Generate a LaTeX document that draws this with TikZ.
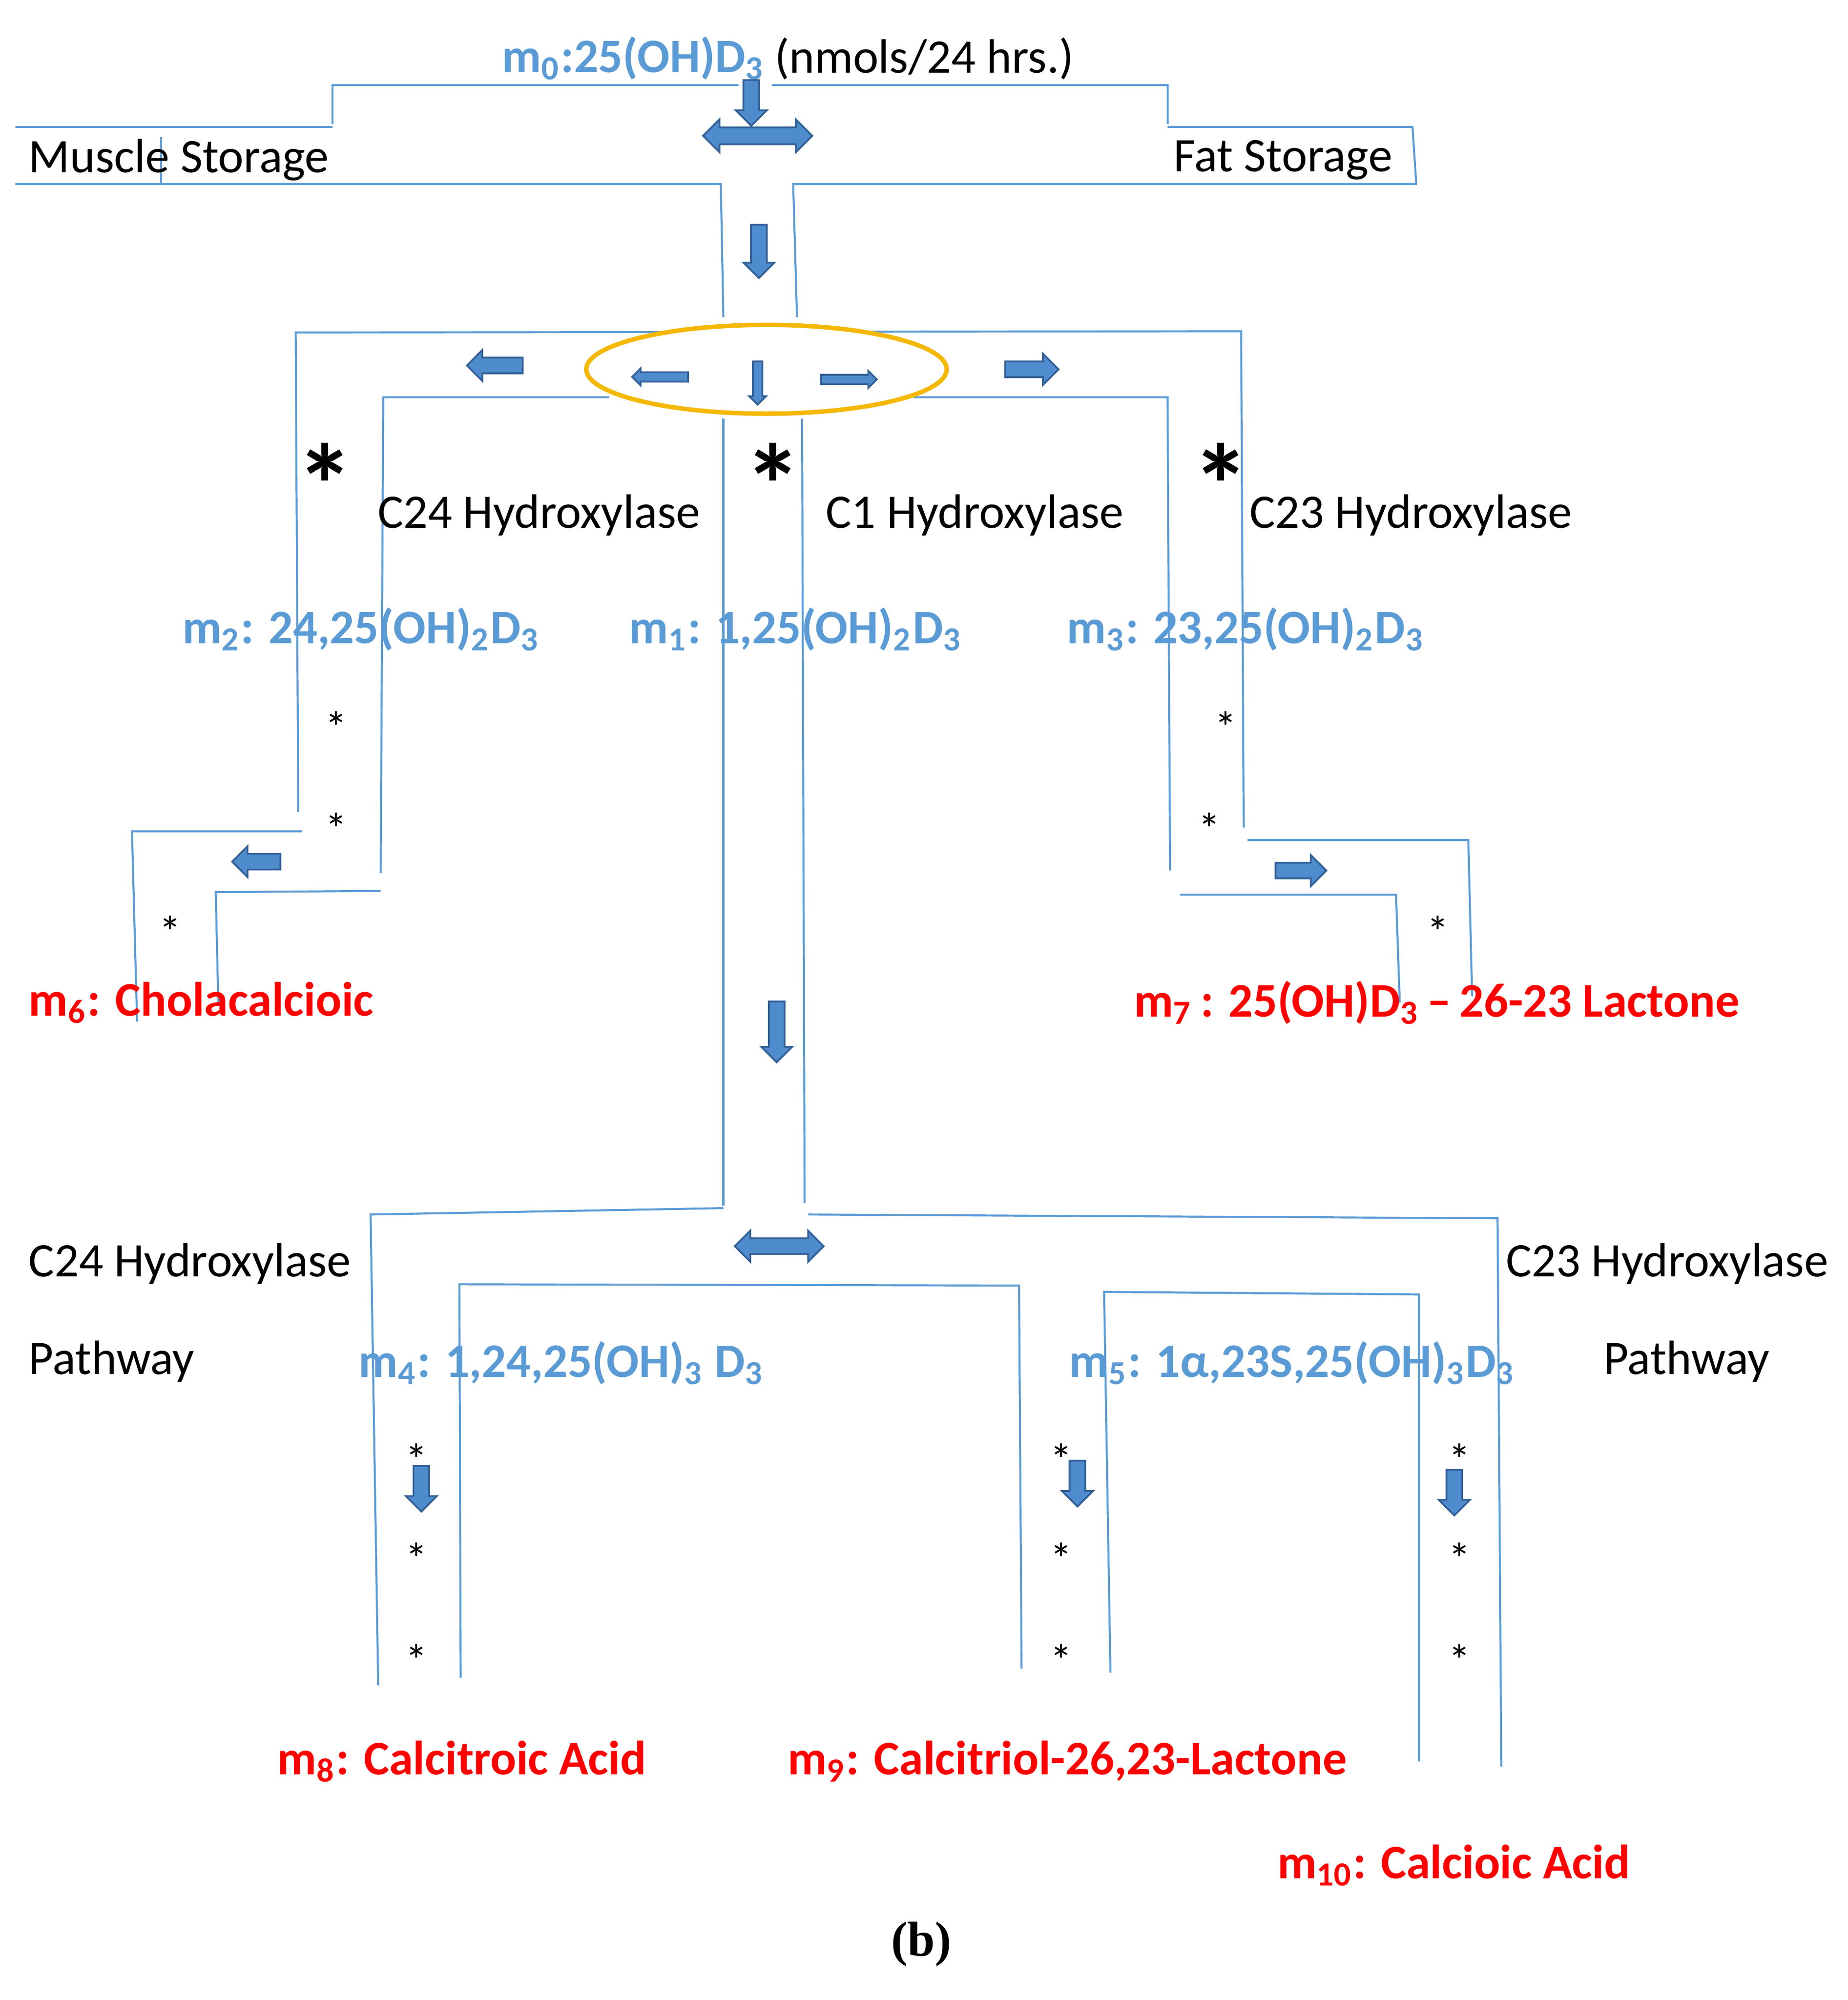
\documentclass[tikz,border=0pt]{standalone}
\usepackage{fontspec}
\setmainfont{Carlito}
\newfontfamily\serifb{Liberation Serif}
\usetikzlibrary{shapes.arrows}
\definecolor{ln}{RGB}{91,155,213}
\definecolor{arrf}{RGB}{79,140,205}
\definecolor{arrd}{RGB}{50,95,150}
\definecolor{bl}{RGB}{91,155,213}
\definecolor{rd}{RGB}{255,0,0}
\definecolor{orng}{RGB}{245,184,0}
\begin{document}
\begin{tikzpicture}[x=0.01cm,y=-0.01cm,
  l/.style={draw=ln,line width=0.45pt},
  sa/.style={single arrow,draw=arrd,fill=arrf,line width=0.4pt,inner xsep=0pt,inner ysep=0.055cm,single arrow head extend=0.06cm,single arrow tip angle=90,minimum width=0.23cm,minimum height=0.36cm},
  sat/.style={sa,inner ysep=0.03cm,minimum width=0.13cm,single arrow head extend=0.03cm,minimum height=0.44cm},
  da/.style={double arrow,draw=arrd,fill=arrf,line width=0.4pt,inner xsep=0pt,inner ysep=0.055cm,double arrow head extend=0.06cm,minimum width=0.26cm,minimum height=0.86cm},
  t/.style={anchor=west,inner sep=0pt,font=\fontsize{10.8}{12}\selectfont},
  tb/.style={t,text=bl,font=\fontsize{10.8}{12}\selectfont\bfseries},
  tr/.style={t,text=rd,font=\fontsize{10.8}{12}\selectfont\bfseries},
  as/.style={inner sep=0pt,font=\fontsize{10}{12}\selectfont},
  bas/.style={inner sep=0pt,font=\fontsize{26}{28}\selectfont\bfseries}]
\useasboundingbox (0,0) rectangle (1456,1576);
% top
\node[tb] (m0) at (395,46) {m\textsubscript{0}:25(OH)D\textsubscript{3}};
\node[t,anchor=west] (nm) at (m0.east) {\,(nmols/24 hrs.)};
\draw[l] (262,98)--(262,67)--(582,67);
\draw[l] (608,67)--(920,67)--(920,98);
\draw[l] (12,100)--(262,100);
\draw[l] (12,145)--(568,145)--(570,250);
\draw[l] (127,108)--(127,145);
\draw[l] (920,100)--(1113,100)--(1116,145)--(625,145)--(628,250);
\node[t] (ms) at (22,126) {Muscle Storage};
\node[t] (fs) at (924,126) {Fat Storage};
\node[sa,rotate=-90] (a0) at (592,78) {};
\node[da] (d0) at (597,107) {};
\node[sa,rotate=-90,minimum height=0.42cm] (a1) at (598,195) {};
% second level
\draw[l] (235,640)--(233,262)--(978,261)--(980,652);
\draw[l] (300,688)--(302,313)--(480,313);
\draw[l] (720,313)--(920,313)--(922,686);
\draw[l] (570,330)--(570,950);
\draw[l] (632,330)--(634,948);
\draw[orng,line width=1pt,fill=white] (604,291) ellipse [x radius=142,y radius=35];
\node[sat,shape border rotate=180] (e1) at (522,297) {};
\node[sat,rotate=-90,minimum height=0.34cm] (e2) at (597,300) {};
\node[sat] (e3) at (667,299) {};
\node[sa,shape border rotate=180,minimum height=0.44cm] (al) at (393,288) {};
\node[sa,minimum height=0.42cm] (ar) at (810,291) {};
\node[bas] (s1) at (256,382) {*};
\node[bas] (s2) at (609,382) {*};
\node[bas] (s3) at (962,382) {*};
\node[t] (c24) at (297,406) {C24 Hydroxylase};
\node[t] (c1) at (650,406) {C1 Hydroxylase};
\node[t] (c23) at (984,406) {C23 Hydroxylase};
\node[tb] (m2) at (143,496) {m\textsubscript{2}: 24,25(OH)\textsubscript{2}D\textsubscript{3}};
\node[tb] (m1) at (495,496) {m\textsubscript{1}: 1,25(OH)\textsubscript{2}D\textsubscript{3}};
\node[tb] (m3) at (840,496) {m\textsubscript{3}: 23,25(OH)\textsubscript{2}D\textsubscript{3}};
\node[as] at (265,573) {*}; \node[as] at (265,653) {*}; \node[as] at (134,734) {*};
\node[as] at (966,573) {*}; \node[as] at (953,653) {*}; \node[as] at (1133,734) {*};
\draw[l] (238,655)--(104,655)--(108,805);
\draw[l] (300,702)--(170,703)--(172,790);
\node[sa,shape border rotate=180,minimum height=0.38cm] (a6) at (205,679) {};
\draw[l] (983,662)--(1157,662)--(1160,785);
\draw[l] (930,705)--(1100,705)--(1103,790);
\node[sa,minimum height=0.4cm] (a7) at (1022,686) {};
\node[tr] (m6) at (22,790) {m\textsubscript{6}: Cholacalcioic};
\node[tr] (m7) at (893,790) {m\textsubscript{7}\,: 25(OH)D\textsubscript{3}\,–\,26-23 Lactone};
\node[sa,rotate=-90,minimum height=0.48cm] (a8) at (612,810) {};
% bottom
\draw[l] (298,1328)--(292,957)--(570,952);
\draw[l] (637,957)--(1180,960)--(1183,1392);
\draw[l] (363,1322)--(362,1012)--(803,1013)--(805,1315);
\draw[l] (875,1318)--(870,1018)--(1118,1020)--(1118,1388);
\node[da,minimum height=0.7cm,minimum width=0.24cm] (d1) at (614,982) {};
\node[t] (p1) at (22,996) {C24 Hydroxylase};
\node[t] (p2) at (22,1073) {Pathway};
\node[t] (p3) at (1186,996) {C23 Hydroxylase};
\node[t] (p4) at (1263,1073) {Pathway};
\node[tb] (m4) at (282,1074) {m\textsubscript{4}: 1,24,25(OH)\textsubscript{3} D\textsubscript{3}};
\node[tb] (m5) at (842,1074) {m\textsubscript{5}: 1α,23S,25(OH)\textsubscript{3}D\textsubscript{3}};
\foreach \x in {328,836,1150}{\foreach \y in {1150,1228,1308}{\node[as] at (\x,\y) {*};}}
\node[sa,rotate=-90] (b1) at (332,1170) {};
\node[sa,rotate=-90] (b2) at (849,1166) {};
\node[sa,rotate=-90] (b3) at (1146,1173) {};
\node[tr] (m8) at (218,1388) {m\textsubscript{8}: Calcitroic Acid};
\node[tr] (m9) at (620,1388) {m\textsubscript{9}: Calcitriol-26,23-Lactone};
\node[tr] (m10) at (1006,1470) {m\textsubscript{10}: Calcioic Acid};
\node[inner sep=0pt,font=\serifb\fontsize{11}{12}\selectfont\bfseries] (b) at (726,1532) {(b)};
\end{tikzpicture}
\end{document}
